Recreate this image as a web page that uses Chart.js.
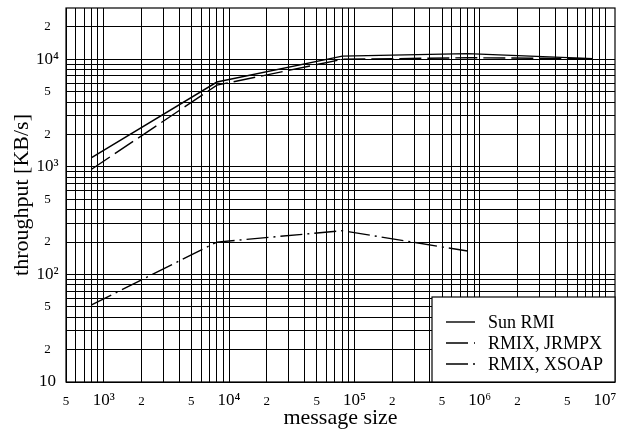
<!DOCTYPE html>
<html>
<head>
  <title>throughput vs message size</title>
  <script src="https://cdn.jsdelivr.net/npm/chart.js"></script>
  <style>
    body { margin: 0; background: #fff; }
  </style>
</head>
<body>
  <canvas id="chart" width="622" height="434"></canvas>

  <script>
    // values
    let messageSizes = [800, 8000, 80000, 800000, 8000000];
    let sunRmi = [1220, 6150, 10700, 11300, 10150];
    let rmixJrmpx = [950, 5750, 10000, 10350, 10150];
    let xsoapSizes = [800, 8000, 80000, 800000];
    let rmixXsoap = [52, 200, 255, 165];

    let seriesNames = ["Sun RMI", "RMIX, JRMPX", "RMIX, XSOAP"];

    let xTickValues = [500, 1e3, 2e3, 5e3, 1e4, 2e4, 5e4, 1e5, 2e5, 5e5, 1e6, 2e6, 5e6, 1e7];
    let xTickLabels = ["5", "10\u00b3", "2", "5", "10\u2074", "2", "5", "10\u2075", "2", "5", "10\u2076", "2", "5", "10\u2077"];
    let yTickValues = [10, 20, 50, 100, 200, 500, 1000, 2000, 5000, 10000, 20000];
    let yTickLabels = ["10", "2", "5", "10\u00b2", "2", "5", "10\u00b3", "2", "5", "10\u2074", "2"];

    const FONT = "'Liberation Serif', 'Times New Roman', serif";
    const X_MIN = 500, X_MAX = 1.2e7;
    const Y_MIN = 10, Y_MAX = 3e4;

    function points(xs, ys) {
      return xs.map((x, i) => ({ x: x, y: ys[i] }));
    }

    // grid lines at 1..9 x 10^n inside [min, max)
    function logGrid(min, max) {
      let out = [];
      for (let e = Math.floor(Math.log10(min)); e <= Math.ceil(Math.log10(max)); e++) {
        for (let m = 1; m <= 9; m++) {
          let v = m * Math.pow(10, e);
          if (v >= min * 0.999 && v < max * 0.999) out.push(v);
        }
      }
      return out;
    }

    function labelFor(values, labels, v) {
      let i = values.findIndex(t => Math.abs(t - v) / v < 1e-6);
      return i < 0 ? "" : labels[i];
    }

    function isMajor(v) {
      let l = Math.log10(v);
      return Math.abs(l - Math.round(l)) < 1e-6;
    }

    const frame = {
      id: "frame",
      afterDatasetsDraw(chart) {
        let a = chart.chartArea;
        let ctx = chart.ctx;
        ctx.save();
        ctx.strokeStyle = "#000";
        ctx.lineWidth = 1.2;
        ctx.strokeRect(a.left, a.top, a.right - a.left, a.bottom - a.top);
        ctx.restore();
      }
    };

    const boxLegend = {
      id: "boxLegend",
      afterDraw(chart) {
        let a = chart.chartArea;
        let ctx = chart.ctx;
        let x0 = 432, y0 = 297;
        ctx.save();
        ctx.fillStyle = "#fff";
        ctx.fillRect(x0, y0, a.right - x0, a.bottom - y0);
        ctx.strokeStyle = "#000";
        ctx.lineWidth = 1.2;
        ctx.strokeRect(x0, y0, a.right - x0, a.bottom - y0);
        ctx.font = "18px " + FONT;
        ctx.textBaseline = "middle";
        ctx.fillStyle = "#000";
        chart.data.datasets.forEach((ds, i) => {
          let y = 322 + i * 21;
          ctx.beginPath();
          ctx.setLineDash(ds.borderDash || []);
          ctx.lineWidth = ds.borderWidth;
          ctx.moveTo(446, y);
          ctx.lineTo(475, y);
          ctx.stroke();
          ctx.setLineDash([]);
          ctx.fillText(ds.label, 488, y + 1);
        });
        ctx.restore();
      }
    };

    new Chart(document.getElementById("chart"), {
      type: "line",
      data: {
        datasets: [
          {
            label: seriesNames[0],
            data: points(messageSizes, sunRmi),
            borderColor: "#000",
            borderWidth: 1.4,
            pointRadius: 0
          },
          {
            label: seriesNames[1],
            data: points(messageSizes, rmixJrmpx),
            borderColor: "#000",
            borderWidth: 1.4,
            borderDash: [22, 6],
            pointRadius: 0
          },
          {
            label: seriesNames[2],
            data: points(xsoapSizes, rmixXsoap),
            borderColor: "#000",
            borderWidth: 1.4,
            borderDash: [22, 5, 2, 5],
            pointRadius: 0
          }
        ]
      },
      options: {
        responsive: false,
        animation: false,
        layout: { padding: { left: 0, top: 8, right: 7, bottom: 0 } },
        plugins: {
          legend: { display: false },
          tooltip: { enabled: false }
        },
        scales: {
          x: {
            type: "logarithmic",
            min: X_MIN,
            max: X_MAX,
            afterBuildTicks: s => { s.ticks = logGrid(X_MIN, X_MAX).map(v => ({ value: v })); },
            afterFit: s => { s.height = 52; s.paddingLeft = 0; s.paddingRight = 0; },
            grid: { color: "#000", lineWidth: 1, drawTicks: false },
            border: { display: false },
            ticks: {
              autoSkip: false,
              maxRotation: 0,
              padding: 8,
              color: "#000",
              font: c => isMajor(c.tick.value)
                ? { family: FONT, size: 17, lineHeight: 1.2 }
                : { family: FONT, size: 13, lineHeight: 1.85 },
              callback: v => labelFor(xTickValues, xTickLabels, v)
            },
            title: {
              display: true,
              text: "message size",
              color: "#000",
              font: { family: FONT, size: 22, lineHeight: 1.2 },
              padding: { top: 0, bottom: 3 }
            }
          },
          y: {
            type: "logarithmic",
            min: Y_MIN,
            max: Y_MAX,
            afterBuildTicks: s => { s.ticks = logGrid(Y_MIN, Y_MAX).map(v => ({ value: v })); },
            afterFit: s => { s.width = 66; s.paddingTop = 0; s.paddingBottom = 0; },
            grid: { color: "#000", lineWidth: 1, drawTicks: false },
            border: { display: false },
            ticks: {
              autoSkip: false,
              crossAlign: "center",
              padding: 7,
              color: "#000",
              font: c => isMajor(c.tick.value)
                ? { family: FONT, size: 17 }
                : { family: FONT, size: 13 },
              callback: v => labelFor(yTickValues, yTickLabels, v)
            },
            title: {
              display: true,
              text: "throughput [KB/s]",
              color: "#000",
              font: { family: FONT, size: 22, lineHeight: 1.2 },
              padding: { top: 9, bottom: 0 }
            }
          }
        }
      },
      plugins: [frame, boxLegend]
    });
  </script>
</body>
</html>
